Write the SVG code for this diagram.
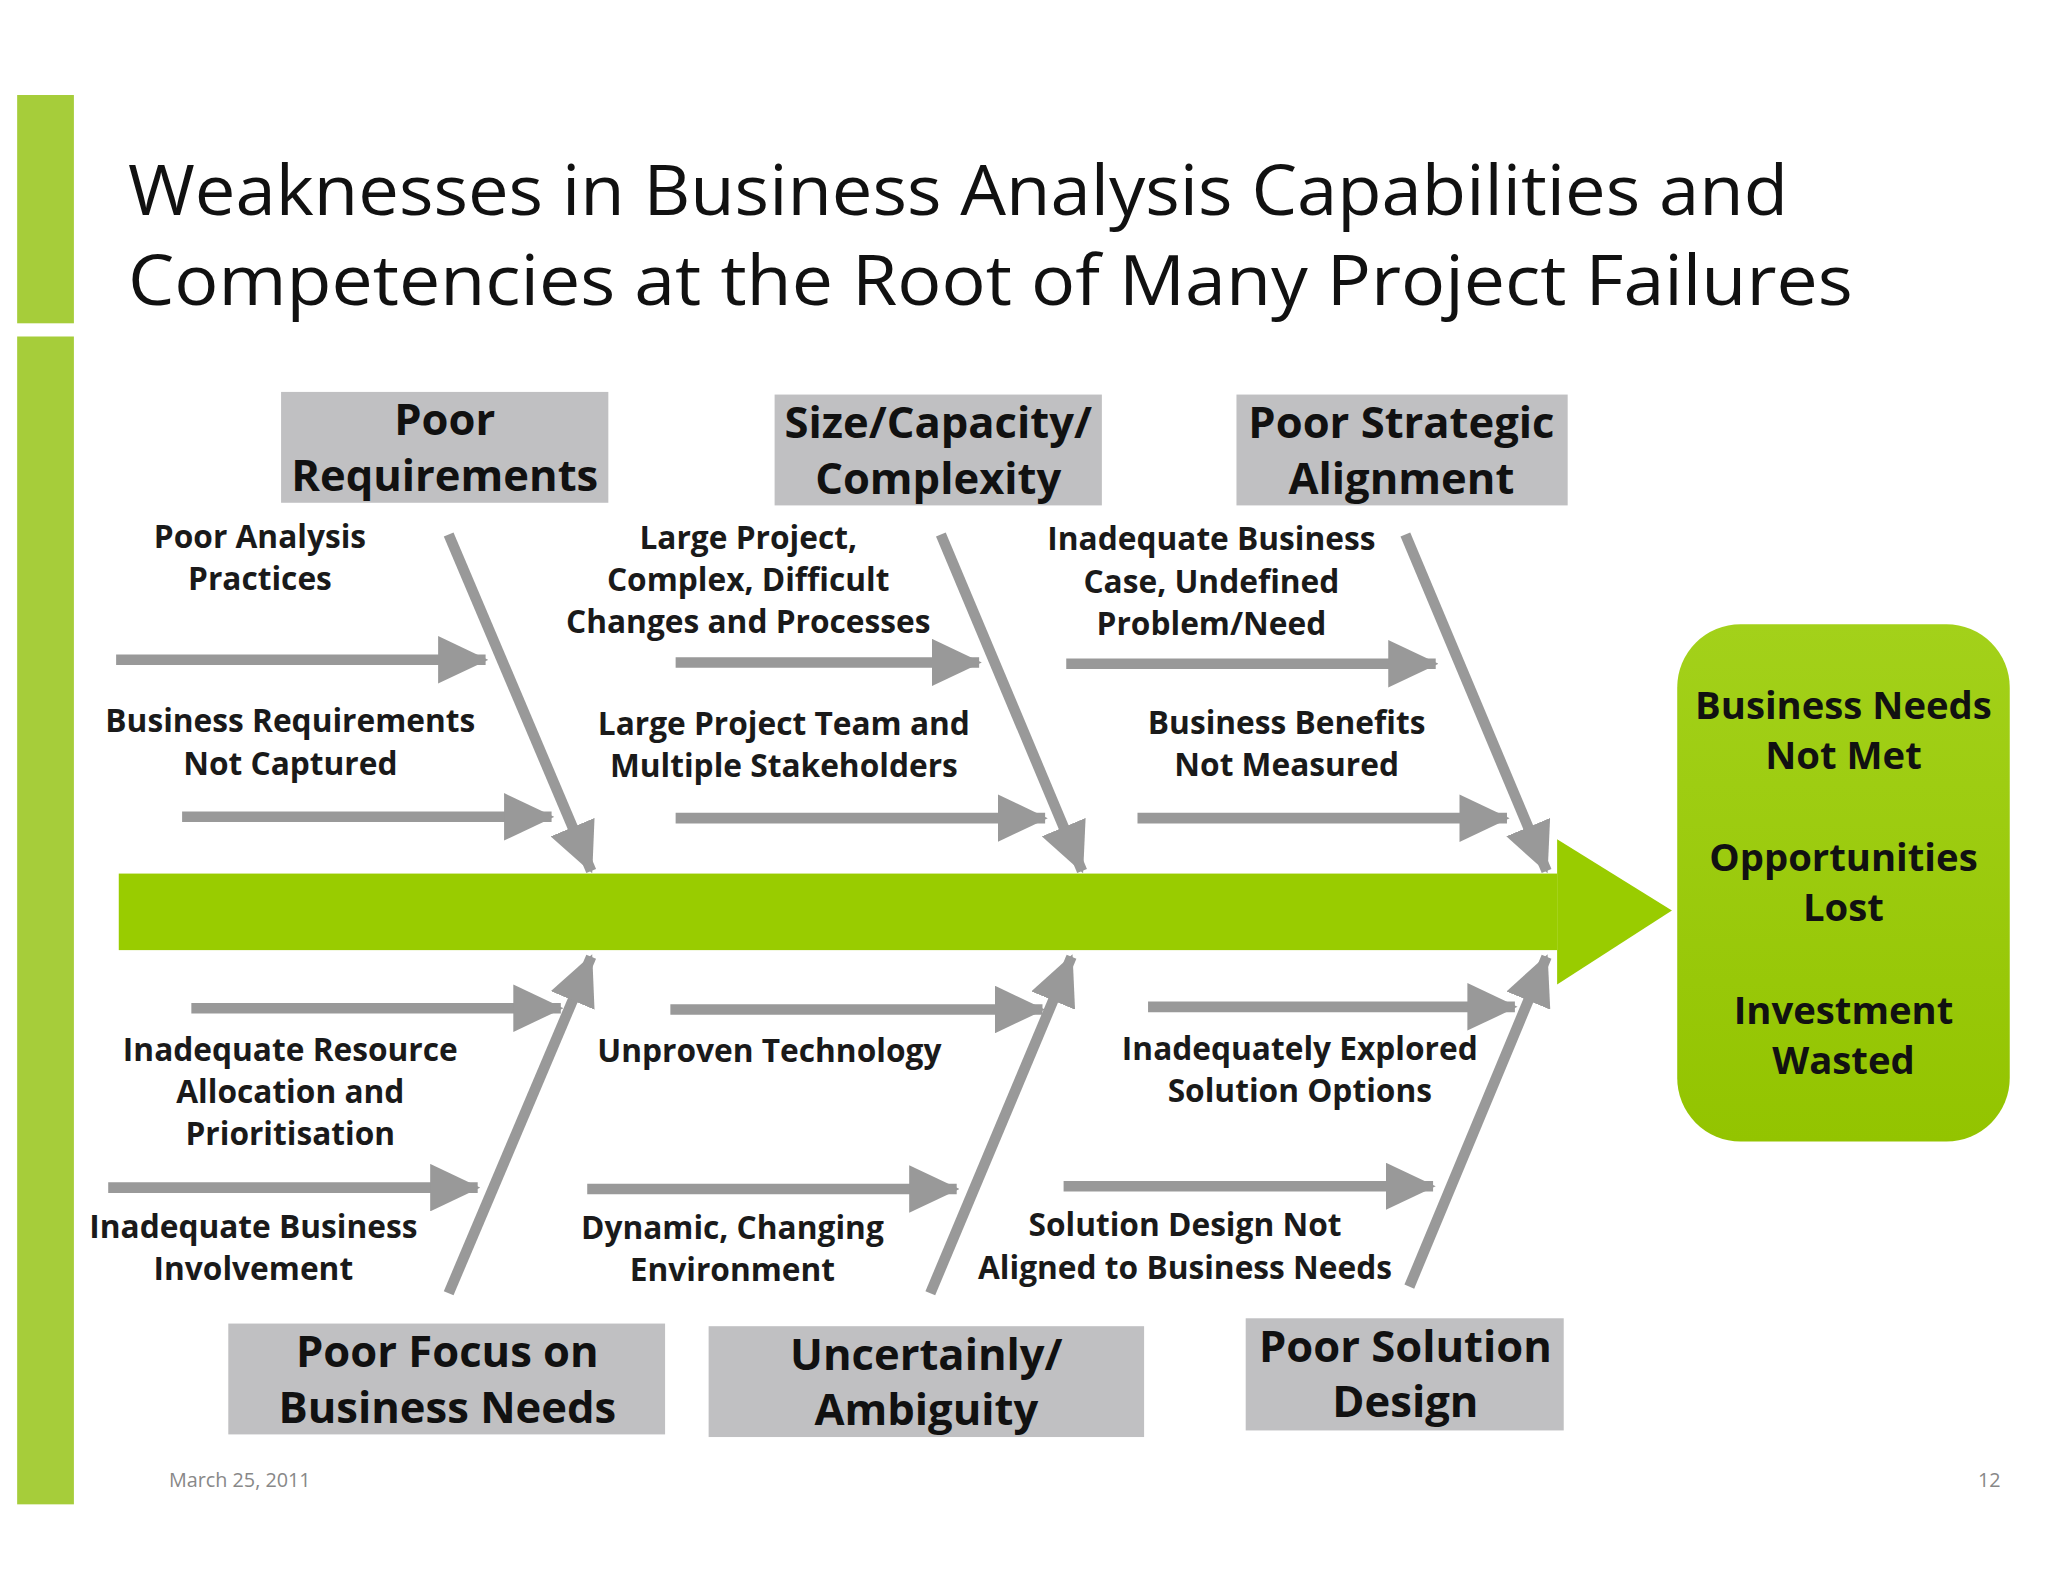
<svg xmlns="http://www.w3.org/2000/svg" width="2048" height="1582" viewBox="0 0 2048 1582">
<style>
.t{font-family:"Open Sans","Liberation Sans",sans-serif;fill:#111}
.lb{font-family:"Open Sans","Liberation Sans",sans-serif;font-weight:bold;font-size:24px;fill:#1a1a1a;text-anchor:middle}
.cat{font-family:"Open Sans","Liberation Sans",sans-serif;font-weight:bold;font-size:33px;fill:#111;text-anchor:middle}
.box{fill:#c0c0c2}
.ar{stroke:#999;stroke-width:8;fill:none;marker-end:url(#h)}
.out{font-family:"Open Sans","Liberation Sans",sans-serif;font-weight:bold;font-size:29px;fill:#111;text-anchor:middle}
</style>
<defs>
<marker id="h" markerUnits="userSpaceOnUse" markerWidth="38" markerHeight="36" refX="36" refY="18" orient="auto"><path d="M0,0 L38,18 L0,36 z" fill="#999"/></marker>
<linearGradient id="g" x1="0" y1="0" x2="0" y2="1"><stop offset="0" stop-color="#a3d11a"/><stop offset="1" stop-color="#93c400"/></linearGradient>
</defs>
<rect width="2048" height="1582" fill="#fff"/>
<g transform="scale(1.3196)">
<g id="sidebar"><rect x="13" y="72" width="43" height="173" fill="#a6cd3a"/><rect x="13" y="255" width="43" height="885" fill="#a6cd3a"/></g>
<g id="title">
<text class="t" x="97" y="163" font-size="52" textLength="1258" lengthAdjust="spacingAndGlyphs">Weaknesses in Business Analysis Capabilities and</text>
<text class="t" x="97" y="231" font-size="52" textLength="1307" lengthAdjust="spacingAndGlyphs">Competencies at the Root of Many Project Failures</text>
</g>
<g id="spine"><rect x="90" y="662" width="1090" height="58" fill="#99cc00"/><path d="M1180,636 L1267,690 L1180,746 z" fill="#99cc00"/></g>
<g id="outcome"><rect x="1271" y="473" width="252" height="392" rx="48" fill="url(#g)"/>
<text class="out" x="1397" y="545">Business Needs</text><text class="out" x="1397" y="583">Not Met</text>
<text class="out" x="1397" y="660">Opportunities</text><text class="out" x="1397" y="698">Lost</text>
<text class="out" x="1397" y="776">Investment</text><text class="out" x="1397" y="814">Wasted</text></g>
<g id="connectors">
<line class="ar" x1="340" y1="405" x2="448" y2="660"/>
<line class="ar" x1="713" y1="405" x2="820" y2="660"/>
<line class="ar" x1="1065" y1="405" x2="1172" y2="660"/>
<line class="ar" x1="340" y1="980" x2="448" y2="725"/>
<line class="ar" x1="705" y1="980" x2="812" y2="725"/>
<line class="ar" x1="1068" y1="975" x2="1172" y2="725"/>
<line class="ar" x1="88" y1="500" x2="368" y2="500"/>
<line class="ar" x1="138" y1="619" x2="418" y2="619"/>
<line class="ar" x1="512" y1="502" x2="742" y2="502"/>
<line class="ar" x1="512" y1="620" x2="792" y2="620"/>
<line class="ar" x1="808" y1="503" x2="1088" y2="503"/>
<line class="ar" x1="862" y1="620" x2="1142" y2="620"/>
<line class="ar" x1="145" y1="764" x2="425" y2="764"/>
<line class="ar" x1="82" y1="900" x2="362" y2="900"/>
<line class="ar" x1="508" y1="765" x2="790" y2="765"/>
<line class="ar" x1="445" y1="901" x2="725" y2="901"/>
<line class="ar" x1="870" y1="763" x2="1148" y2="763"/>
<line class="ar" x1="806" y1="899" x2="1086" y2="899"/>
</g>
<g id="cat1"><rect class="box" x="213" y="297" width="248" height="84"/><text class="cat" x="337" y="330">Poor</text><text class="cat" x="337" y="372">Requirements</text></g>
<g id="cat2"><rect class="box" x="587" y="299" width="248" height="84"/><text class="cat" x="711" y="332">Size/Capacity/</text><text class="cat" x="711" y="374">Complexity</text></g>
<g id="cat3"><rect class="box" x="937" y="299" width="251" height="84"/><text class="cat" x="1062" y="332">Poor Strategic</text><text class="cat" x="1062" y="374">Alignment</text></g>
<g id="cat4"><rect class="box" x="173" y="1003" width="331" height="84"/><text class="cat" x="339" y="1036">Poor Focus on</text><text class="cat" x="339" y="1078">Business Needs</text></g>
<g id="cat5"><rect class="box" x="537" y="1005" width="330" height="84"/><text class="cat" x="702" y="1038">Uncertainly/</text><text class="cat" x="702" y="1080">Ambiguity</text></g>
<g id="cat6"><rect class="box" x="944" y="999" width="241" height="85"/><text class="cat" x="1065" y="1032">Poor Solution</text><text class="cat" x="1065" y="1074">Design</text></g>
<g id="labels">
<text class="lb" x="197" y="415">Poor Analysis</text><text class="lb" x="197" y="447">Practices</text>
<text class="lb" x="220" y="555">Business Requirements</text><text class="lb" x="220" y="587">Not Captured</text>
<text class="lb" x="567" y="416">Large Project,</text><text class="lb" x="567" y="448">Complex, Difficult</text><text class="lb" x="567" y="480">Changes and Processes</text>
<text class="lb" x="594" y="557">Large Project Team and</text><text class="lb" x="594" y="589">Multiple Stakeholders</text>
<text class="lb" x="918" y="417">Inadequate Business</text><text class="lb" x="918" y="449">Case, Undefined</text><text class="lb" x="918" y="481">Problem/Need</text>
<text class="lb" x="975" y="556">Business Benefits</text><text class="lb" x="975" y="588">Not Measured</text>
<text class="lb" x="220" y="804">Inadequate Resource</text><text class="lb" x="220" y="836">Allocation and</text><text class="lb" x="220" y="868">Prioritisation</text>
<text class="lb" x="583" y="805">Unproven Technology</text>
<text class="lb" x="985" y="803">Inadequately Explored</text><text class="lb" x="985" y="835">Solution Options</text>
<text class="lb" x="192" y="938">Inadequate Business</text><text class="lb" x="192" y="970">Involvement</text>
<text class="lb" x="555" y="939">Dynamic, Changing</text><text class="lb" x="555" y="971">Environment</text>
<text class="lb" x="898" y="937">Solution Design Not</text><text class="lb" x="898" y="969">Aligned to Business Needs</text>
</g>
<g id="footer"><text class="t" x="128" y="1127" font-size="15" style="fill:#888">March 25, 2011</text><text class="t" x="1516" y="1127" font-size="15" text-anchor="end" style="fill:#888">12</text></g>
</g>
</svg>
